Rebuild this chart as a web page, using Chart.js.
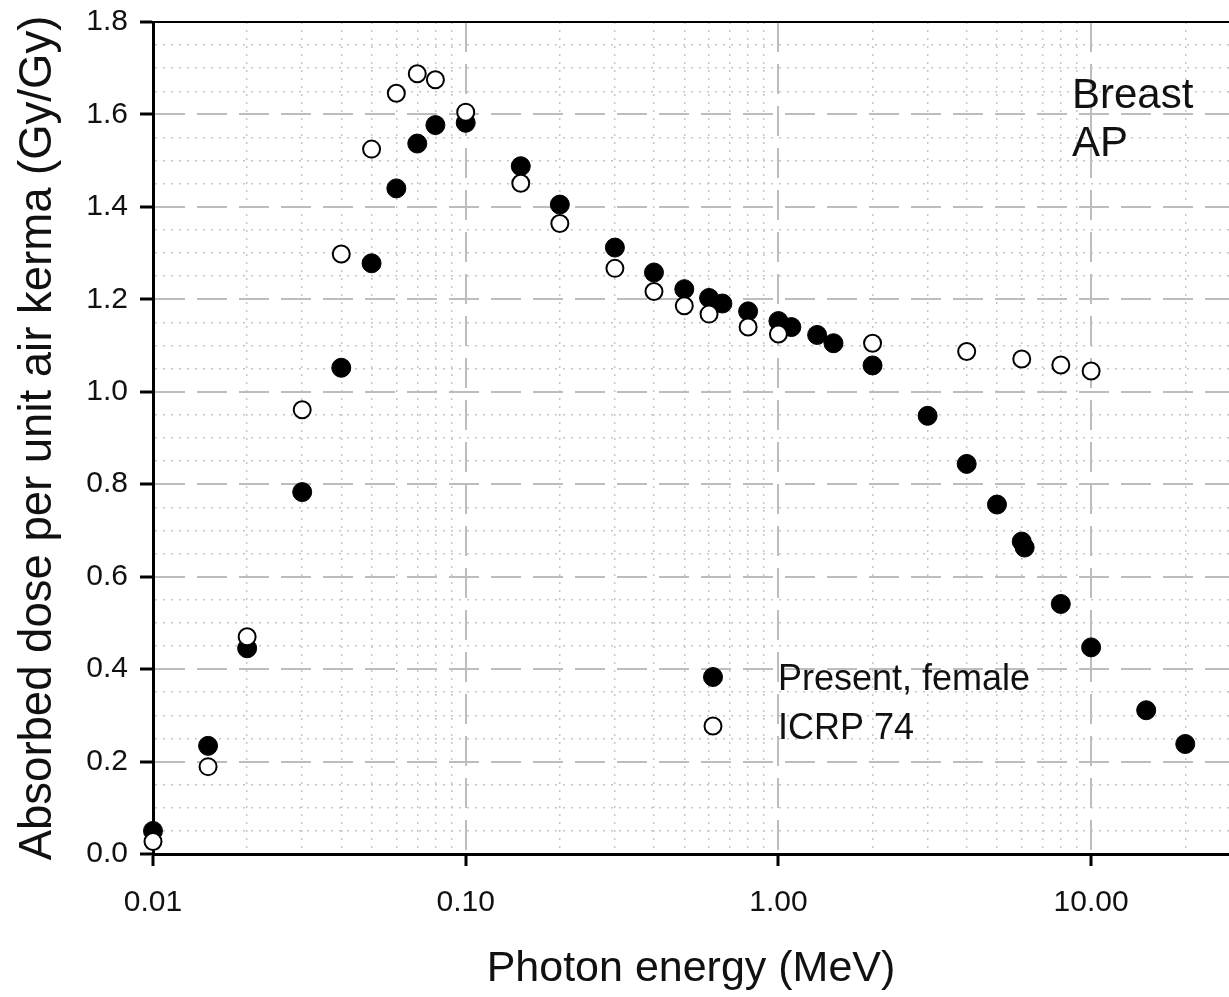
<!DOCTYPE html>
<html><head><meta charset="utf-8">
<script src="https://cdn.jsdelivr.net/npm/chart.js@4/dist/chart.umd.min.js"></script>
<style>html,body{margin:0;padding:0;background:#fff;} canvas{display:block;}</style>
</head><body>
<canvas id="c" width="1229" height="997"></canvas>
<script>
// ---- data ----
const presentEnergy = [0.01,0.015,0.02,0.03,0.04,0.05,0.06,0.07,0.08,0.1,0.15,0.2,0.3,0.4,0.5,0.6,0.662,0.8,1.0,1.1,1.33,1.5,2,3,4,5,6,6.13,8,10,15,20];
const presentDose   = [0.050,0.234,0.445,0.783,1.052,1.278,1.440,1.537,1.577,1.582,1.488,1.405,1.312,1.258,1.222,1.203,1.191,1.174,1.153,1.140,1.123,1.105,1.057,0.948,0.844,0.756,0.676,0.663,0.541,0.447,0.311,0.238];
const icrpEnergy = [0.01,0.015,0.02,0.03,0.04,0.05,0.06,0.07,0.08,0.1,0.15,0.2,0.3,0.4,0.5,0.6,0.8,1.0,2,4,6,8,10];
const icrpDose   = [0.027,0.189,0.470,0.961,1.298,1.525,1.646,1.688,1.675,1.605,1.451,1.364,1.267,1.217,1.186,1.168,1.140,1.125,1.105,1.087,1.071,1.058,1.045];
const seriesNames = ['Present, female','ICRP 74'];
const annotationLines = ['Breast','AP'];
const xTitle = 'Photon energy (MeV)';
const yTitle = 'Absorbed dose per unit air kerma (Gy/Gy)';
const xMin = 0.01, xMax = 27.6;
const xMajorTicks = [0.01, 0.1, 1, 10];
const xTickLabels = ['0.01','0.10','1.00','10.00'];
const xMinorMultipliers = [1,2,3,4,5,6,7,8,9];
const yMin = 0, yMax = 1.8, yMajorStep = 0.2, yMinorStep = 0.05;

// ---- tick lists (grid) ----
const xTickValues = [];
xMajorTicks.forEach(d => xMinorMultipliers.forEach(k => {
  const v = Math.round(d * k * 10000) / 10000;
  if (v <= xMax) xTickValues.push(v);
}));
const yTickValues = [];
for (let i = 0; i <= Math.round((yMax - yMin) / yMinorStep); i++) yTickValues.push(Math.round((yMin + i * yMinorStep) * 1000) / 1000);

const isMajorX = v => xMajorTicks.some(m => Math.abs(m - v) < m * 1e-6);
const isMajorY = v => Math.abs(v / yMajorStep - Math.round(v / yMajorStep)) < 1e-6;

const FAMILY = '"Liberation Sans", Arial, Helvetica, sans-serif';
Chart.defaults.font.family = FAMILY;
const TXT = '#111';
const MAJOR_GRID = '#bdbdbd', MINOR_GRID = '#c6c6c6';
const MAJOR_DASH = [30, 12], MINOR_DASH = [2, 6];

const toPts = (xs, ys) => xs.map((x, i) => ({x, y: ys[i]}));

const overlay = {
  id: 'overlay',
  afterDraw(chart) {
    const ctx = chart.ctx;
    ctx.save();
    ctx.fillStyle = TXT;
    ctx.textBaseline = 'alphabetic';
    ctx.textAlign = 'left';
    ctx.font = '42px ' + FAMILY;
    ctx.fillText(annotationLines[0], 1072, 108);
    ctx.fillText(annotationLines[1], 1072, 156);
    // legend
    const rows = [{ds: chart.data.datasets[1], y: 677}, {ds: chart.data.datasets[0], y: 726}];
    ctx.font = '36px ' + FAMILY;
    rows.forEach(r => {
      ctx.beginPath();
      ctx.arc(713, r.y, r.ds.pointRadius, 0, Math.PI * 2);
      ctx.fillStyle = r.ds.backgroundColor;
      ctx.fill();
      ctx.lineWidth = r.ds.borderWidth;
      ctx.strokeStyle = r.ds.borderColor;
      ctx.stroke();
      ctx.fillStyle = TXT;
      ctx.fillText(r.ds.label, 778, r.y + 13);
    });
    ctx.restore();
  }
};

new Chart(document.getElementById('c'), {
  type: 'scatter',
  data: {
    datasets: [
      { label: seriesNames[1], data: toPts(icrpEnergy, icrpDose), order: 0,
        backgroundColor: '#ffffff', borderColor: '#000000', borderWidth: 2,
        pointRadius: 8.5, pointHoverRadius: 8.5, clip: false },
      { label: seriesNames[0], data: toPts(presentEnergy, presentDose), order: 1,
        backgroundColor: '#000000', borderColor: '#000000', borderWidth: 1,
        pointRadius: 9.5, pointHoverRadius: 9.5, clip: false }
    ]
  },
  options: {
    responsive: false, animation: false, devicePixelRatio: 1,
    layout: { autoPadding: false, padding: { top: 22, right: 0, left: 0, bottom: 0 } },
    plugins: { legend: { display: false }, tooltip: { enabled: false } },
    scales: {
      x: {
        type: 'logarithmic', position: 'bottom', min: xMin, max: xMax,
        afterBuildTicks: s => { s.ticks = xTickValues.map(v => ({value: v})); },
        afterFit: s => { s.height = 143; s.paddingLeft = 0; s.paddingRight = 0; },
        ticks: {
          autoSkip: false, maxRotation: 0, minRotation: 0, padding: 19, color: TXT,
          font: { size: 30 },
          callback: v => { const i = xMajorTicks.findIndex(m => Math.abs(m - v) < m * 1e-6); return i >= 0 ? xTickLabels[i] : ''; }
        },
        grid: {
          color: c => c.tick && isMajorX(c.tick.value) ? MAJOR_GRID : MINOR_GRID,
          lineWidth: c => c.tick && isMajorX(c.tick.value) ? 2 : 1.5,
          tickLength: 12, tickWidth: 3,
          tickColor: c => c.tick && isMajorX(c.tick.value) ? '#000' : 'rgba(0,0,0,0)',
          tickBorderDash: []
        },
        border: {
          color: '#000', width: 3,
          dash: c => c.tick ? (isMajorX(c.tick.value) ? MAJOR_DASH : MINOR_DASH) : []
        },
        title: { display: true, text: xTitle, color: TXT, font: { size: 43 }, padding: { top: 0, bottom: 2 } }
      },
      x2: {
        type: 'logarithmic', position: 'top', min: xMin, max: xMax, display: true,
        afterFit: s => { s.height = 0; s.paddingLeft = 0; s.paddingRight = 0; },
        grid: { display: false, drawTicks: false },
        ticks: { display: false, padding: 0 },
        border: { display: true, color: '#000', width: 2 }
      },
      y: {
        type: 'linear', min: yMin, max: yMax,
        afterBuildTicks: s => { s.ticks = yTickValues.map(v => ({value: v})); },
        afterFit: s => { s.width = 153; s.paddingTop = 0; s.paddingBottom = 0; },
        ticks: {
          autoSkip: false, padding: 12, color: TXT, font: { size: 30 },
          callback: v => isMajorY(v) ? v.toFixed(1) : ''
        },
        grid: {
          color: c => c.tick && isMajorY(c.tick.value) ? MAJOR_GRID : MINOR_GRID,
          lineWidth: c => c.tick && isMajorY(c.tick.value) ? 2 : 1.5,
          tickLength: 13, tickWidth: 3,
          tickColor: c => c.tick && isMajorY(c.tick.value) ? '#000' : 'rgba(0,0,0,0)',
          tickBorderDash: []
        },
        border: {
          color: '#000', width: 3,
          dash: c => c.tick ? (isMajorY(c.tick.value) ? MAJOR_DASH : MINOR_DASH) : []
        },
        title: { display: true, text: yTitle, color: TXT, font: { size: 45.5 }, padding: { top: 11, bottom: 0 } }
      }
    }
  },
  plugins: [overlay]
});
</script>
</body></html>
